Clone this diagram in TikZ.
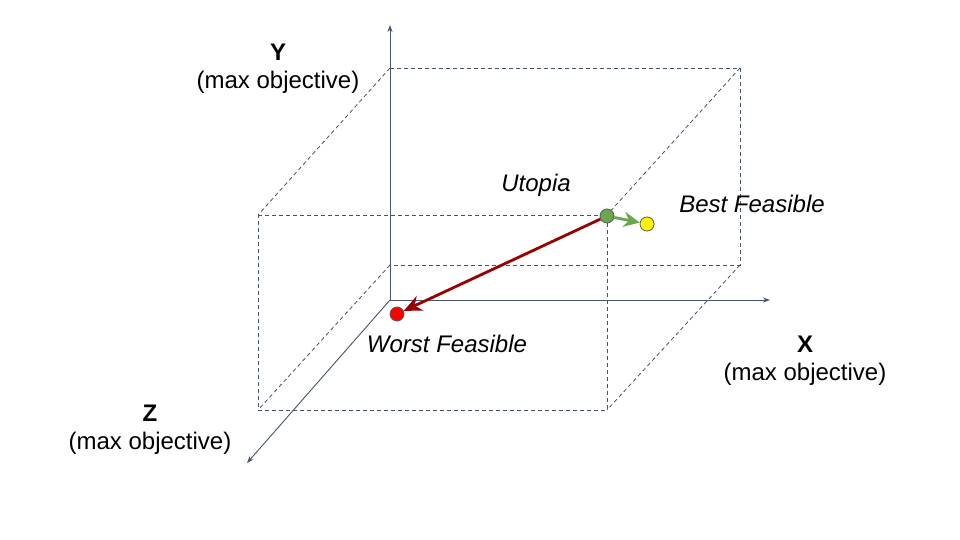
\documentclass[tikz,border=0pt]{standalone}
\usepackage{fontspec}
\setmainfont{Liberation Sans}
\usetikzlibrary{arrows.meta}
\definecolor{axis}{HTML}{44546A}
\definecolor{darkred}{HTML}{990000}
\definecolor{ggreen}{HTML}{6AA84F}
\definecolor{outl}{HTML}{595959}
\tikzset{
  axisline/.style={draw=axis, line width=0.9pt, -{Stealth[length=7pt,width=5pt]}},
  boxline/.style={draw=axis, line width=0.8pt, dash pattern=on 4pt off 3pt},
  dot/.style={circle, draw=outl, line width=0.8pt, minimum size=14pt, inner sep=0pt},
  lbl/.style={font=\fontsize{24}{28}\selectfont, text=black, inner sep=0pt},
  bold/.style={font=\fontsize{24}{28}\selectfont\bfseries, text=black, inner sep=0pt},
  itl/.style={font=\fontsize{24}{28}\selectfont\itshape, text=black, inner sep=0pt},
}
\begin{document}
\begin{tikzpicture}[x=1pt,y=-1pt]
\useasboundingbox (0,0) rectangle (960,540);
% corners
\coordinate (O) at (390,300);
\coordinate (yend) at (390,25);
\coordinate (xend) at (770,300);
\coordinate (zend) at (247,463);
\coordinate (b1) at (390,68);
\coordinate (b2) at (740,68);
\coordinate (b3) at (740,265);
\coordinate (b4) at (390,265);
\coordinate (f1) at (258,215);
\coordinate (f2) at (607,215);
\coordinate (f3) at (607,410);
\coordinate (f4) at (258,410);
% box
\draw[boxline] (b1) -- (b2) -- (b3) -- (b4);
\draw[boxline] (f1) -- (f2) -- (f3) -- (f4) -- cycle;
\draw[boxline] (b1) -- (f1);
\draw[boxline] (b2) -- (f2);
\draw[boxline] (b3) -- (f3);
\draw[boxline] (b4) -- (f4);
% axes
\draw[axisline] (O) -- (yend);
\draw[axisline] (O) -- (xend);
\draw[axisline] (O) -- (zend);
% points
\node[dot, fill=ggreen] (utopia) at (607,216) {};
\node[dot, fill=yellow] (best) at (647,224) {};
\node[dot, fill=red] (worst) at (397,314) {};
\draw[darkred, line width=2.8pt, -{Stealth[length=18pt,width=16pt,inset=6pt]}, shorten >=0pt] (utopia) -- (worst);
\draw[ggreen, line width=2.8pt, -{Stealth[length=16pt,width=15pt,inset=5pt]}] (utopia) -- (best);
% labels
\node[bold] (ylab) at (278,52) {Y};
\node[lbl] (ysub) at (278,82) {(max objective)};
\node[bold] (xlab) at (805,344) {X};
\node[lbl] (xsub) at (805,374) {(max objective)};
\node[bold] (zlab) at (150,413) {Z};
\node[lbl] (zsub) at (150,443) {(max objective)};
\node[itl] (ut) at (536,185) {Utopia};
\node[itl] (bf) at (752,204) {Best Feasible};
\node[itl] (wf) at (447,344) {Worst Feasible};
\end{tikzpicture}
\end{document}
